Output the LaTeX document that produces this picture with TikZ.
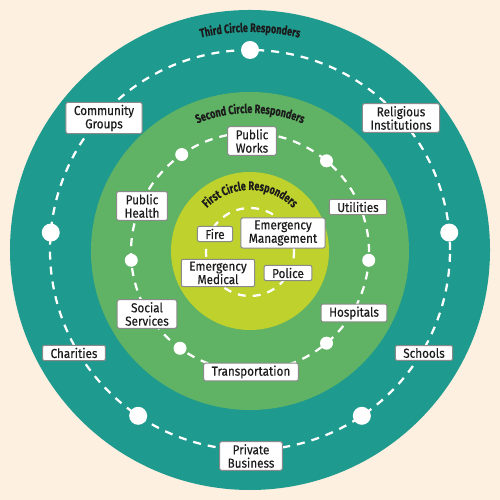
\documentclass[tikz,border=0pt]{standalone}
\usepackage{fontspec}
\setmainfont[FakeStretch=0.9, FakeBold=0.35]{Fira Sans}
\newfontfamily\titlefont[FakeStretch=0.74, FakeBold=0.3]{Fira Sans}
\usepackage{tikz}
\usetikzlibrary{shapes, calc, positioning, decorations.text}
\definecolor{cream}{HTML}{FDF0E0}
\definecolor{teal3}{HTML}{1E9A8F}
\definecolor{green2}{HTML}{60B264}
\definecolor{lime1}{HTML}{BED12C}
\definecolor{boxline}{HTML}{8A8A8A}
\definecolor{ink}{HTML}{1C1C1C}
\tikzstyle{responder} = [draw=boxline, fill=white, line width=0.2mm, rounded corners=0.4mm, align=center, inner xsep=1.6mm, inner ysep=0.5mm, text=ink, font=\fontsize{7.4}{7.6}\selectfont]
\tikzstyle{ring} = [white, line width=0.45mm, dash pattern=on 1.6mm off 1.4mm]
\newcommand{\circletitle}{\titlefont\bfseries\fontsize{7}{7}\selectfont\color{ink}}

\begin{document}
\begin{tikzpicture}
            \fill [cream] (-50mm, -50mm) rectangle (50mm, 50mm);

            % the three circles
            \fill [teal3] (0mm, 0mm) circle (48mm);
            \fill [green2] (0mm, -0.2mm) circle (31.8mm);
            \fill [lime1] (0mm, -0.2mm) circle (15.8mm);

            % dashed rings and dots
            \draw [ring] (0mm, 0mm) circle (40mm);
            \draw [ring] (0mm, -0.4mm) circle (23.8mm);
            \draw [ring] (0mm, -0.4mm) circle (8.8mm);
            \foreach \a in {90, 175, 5, 236, 304}
                \fill [white] (\a:40mm) circle (1.8mm);
            \foreach \a in {125, 50, -4, 184, 234, -50}
                \fill [white] ($(0mm, -0.4mm) + (\a:23.8mm)$) circle (1.3mm);

            % titles along the circles
            \path [decorate, decoration={text along path, text align=center, text={|\circletitle|Third Circle Responders}}] (150:43.6mm) arc (150:30:43.6mm);
            \path [decorate, decoration={text along path, text align=center, text={|\circletitle|Second Circle Responders}}] (140:27.4mm) arc (140:40:27.4mm);
            \path [decorate, decoration={text along path, text align=center, text={|\circletitle|First Circle Responders}}] (160:12mm) arc (160:20:12mm);

            % third circle
            \node [responder] at (-29.2mm, 26.4mm) (community) {Community\\Groups};
            \node [responder] at (30.2mm, 26.4mm) (religious) {Religious\\Institutions};
            \node [responder] at (-35.2mm, -20.6mm) (charities) {Charities};
            \node [responder] at (34.8mm, -20.6mm) (schools) {Schools};
            \node [responder] at (0.2mm, -41.2mm) (business) {Private\\Business};

            % second circle
            \node [responder] at (0.4mm, 21.8mm) (works) {Public\\Works};
            \node [responder] at (-21.6mm, 8.8mm) (health) {Public\\Health};
            \node [responder] at (21.6mm, 8.6mm) (utilities) {Utilities};
            \node [responder] at (-20.6mm, -12.8mm) (social) {Social\\Services};
            \node [responder] at (20.8mm, -12.6mm) (hospitals) {Hospitals};
            \node [responder] at (0.2mm, -24.4mm) (transport) {Transportation};

            % first circle
            \node [responder] at (-7mm, 3.2mm) (fire) {Fire};
            \node [responder] at (6.6mm, 3.4mm) (management) {Emergency\\Management};
            \node [responder] at (-6.4mm, -4.6mm) (medical) {Emergency\\Medical};
            \node [responder] at (7.6mm, -4.6mm) (police) {Police};
\end{tikzpicture}
\end{document}
